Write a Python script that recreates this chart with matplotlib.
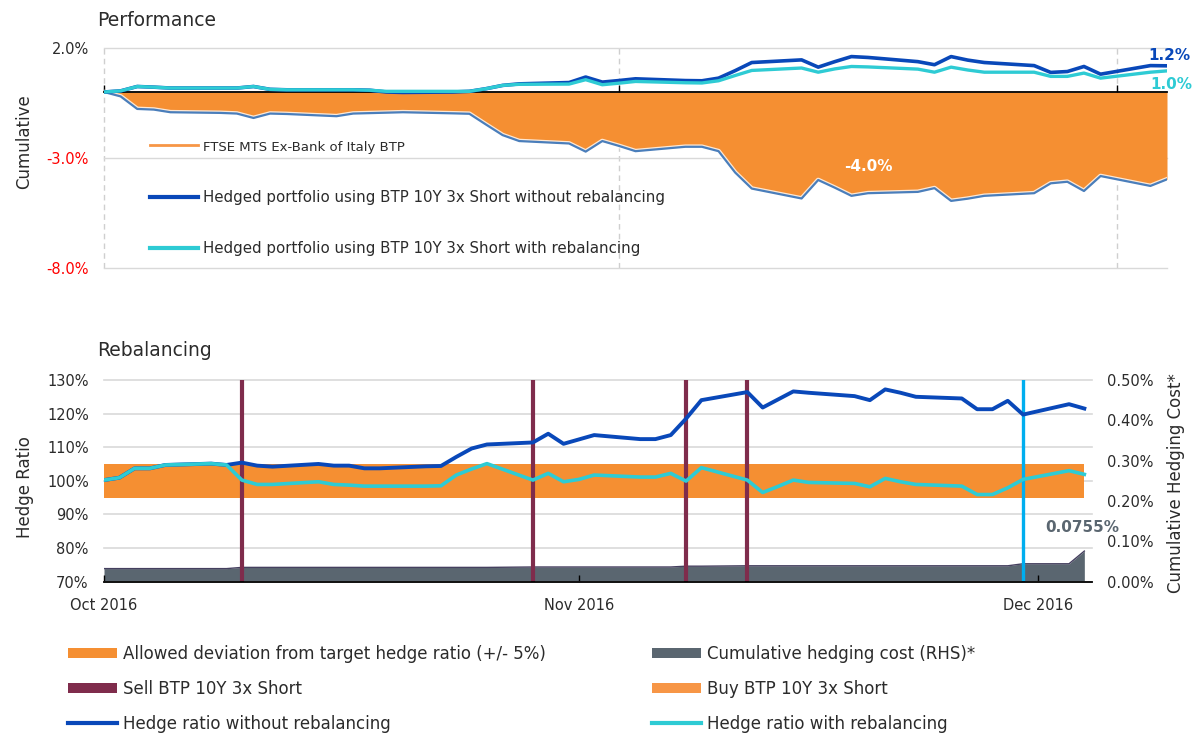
import matplotlib
matplotlib.use('Agg')
import matplotlib.pyplot as plt
import matplotlib.dates as mdates
import matplotlib.patheffects as pe
from matplotlib.ticker import FixedLocator
from matplotlib.lines import Line2D
from matplotlib.patches import Patch
import pandas as pd

# ---------------- data ----------------
dates = pd.bdate_range('2016-10-03', '2016-12-06')

ftse_mts = [0.0, -0.2, -0.77, -0.8, -0.92, -0.95, -0.98, -1.18, -0.98, -1.0,
            -1.1, -0.98, -0.96, -0.94, -0.92, -0.97, -0.99, -1.48, -1.96, -2.23,
            -2.34, -2.71, -2.23, -2.45, -2.69, -2.49, -2.49, -2.69, -3.66, -4.39,
            -4.84, -4.0, -4.35, -4.72, -4.6, -4.54, -4.37, -4.95, -4.85, -4.72,
            -4.6, -4.15, -4.08, -4.5, -3.82, -4.27, -3.97]
hedged_no_rebal = [0.0, 0.05, 0.25, 0.22, 0.18, 0.18, 0.18, 0.25, 0.12, 0.1,
                   0.1, 0.1, 0.08, 0.0, -0.02, 0.0, 0.03, 0.15, 0.3, 0.37,
                   0.43, 0.68, 0.45, 0.52, 0.6, 0.52, 0.51, 0.63, 0.97, 1.34,
                   1.46, 1.13, 1.38, 1.61, 1.57, 1.38, 1.24, 1.61, 1.45, 1.34,
                   1.2, 0.89, 0.93, 1.16, 0.81, 1.2, 1.19]
hedged_rebal = [0.0, 0.05, 0.25, 0.22, 0.18, 0.18, 0.18, 0.25, 0.12, 0.1,
                0.1, 0.1, 0.08, 0.03, 0.03, 0.03, 0.03, 0.15, 0.3, 0.35,
                0.36, 0.56, 0.33, 0.4, 0.48, 0.42, 0.41, 0.51, 0.75, 0.98,
                1.09, 0.9, 1.05, 1.16, 1.14, 1.04, 0.9, 1.13, 1.0, 0.9,
                0.9, 0.71, 0.71, 0.86, 0.63, 0.9, 0.96]

hr_no_rebal = [100.2, 100.9, 103.7, 103.7, 104.7, 105.1, 104.7, 105.4, 104.5, 104.2,
               105.0, 104.5, 104.5, 103.7, 103.7, 104.3, 104.4, 107.1, 109.6, 110.8,
               111.4, 114.0, 111.0, 112.3, 113.6, 112.4, 112.4, 113.6, 118.5, 124.0,
               126.4, 121.8, 124.2, 126.6, 126.2, 125.2, 124.0, 127.2, 126.2, 125.0,
               124.5, 121.3, 121.3, 123.8, 119.7, 122.8, 121.5]
hr_rebal = [100.2, 100.9, 103.7, 103.7, 104.7, 105.1, 104.7, 100.2, 98.9, 98.9,
            99.7, 98.9, 98.7, 98.4, 98.4, 98.4, 98.5, 101.7, 103.5, 105.1,
            100.2, 102.2, 99.7, 100.4, 101.7, 101.1, 101.1, 102.2, 99.9, 103.9,
            100.2, 96.5, 98.3, 100.2, 99.5, 99.2, 98.2, 100.7, 99.7, 98.9,
            98.4, 95.9, 95.9, 97.9, 100.4, 103.0, 101.9]
hedge_cost = [0.032, 0.032, 0.032, 0.032, 0.032, 0.032, 0.032, 0.035, 0.035, 0.035,
              0.035, 0.035, 0.035, 0.035, 0.035, 0.035, 0.035, 0.035, 0.035, 0.035,
              0.036, 0.036, 0.036, 0.036, 0.036, 0.036, 0.036, 0.036, 0.038, 0.038,
              0.039, 0.039, 0.039, 0.039, 0.039, 0.039, 0.039, 0.039, 0.039, 0.039,
              0.039, 0.039, 0.039, 0.039, 0.044, 0.044, 0.0755]

sell_dates = ['2016-10-12', '2016-10-31', '2016-11-10', '2016-11-14']
buy_dates = ['2016-12-02']
band_low, band_high = 95, 105
month_ticks = ['2016-10-03', '2016-11-03', '2016-12-03']
perf_ticks = [2, -3, -8]
hr_ticks = [70, 80, 90, 100, 110, 120, 130]
cost_ticks = [0.0, 0.1, 0.2, 0.3, 0.4, 0.5]

# ---------------- style ----------------
ORANGE = '#f58f32'
ORANGE_LIGHT = '#f79646'
DBLUE = '#0948b9'
CYAN = '#2ecbd4'
STEEL = '#4a7ebb'
MAROON = '#7f2c4c'
LBLUE = '#00aeef'
SLATE = '#5a6670'
GRID = '#d9d9d9'
TXT = '#2b2b2b'

plt.rcParams['font.family'] = ['DejaVu Sans']
W, H = 1200, 753
fig = plt.figure(figsize=(W / 100, H / 100), dpi=100)


def px_axes(l, t, r, b):
    return fig.add_axes([l / W, 1 - b / H, (r - l) / W, (b - t) / H])


tick_nums = mdates.date2num(pd.to_datetime(month_ticks))

# ---------------- Performance panel ----------------
ax1 = px_axes(104, 48, 1167, 268)
ax1.fill_between(dates, 0, ftse_mts, color=ORANGE, lw=0, zorder=2)
ax1.plot(dates, ftse_mts, color=STEEL, lw=1.6, zorder=3,
         path_effects=[pe.Stroke(linewidth=3.4, foreground='white', alpha=0.8), pe.Normal()])
ax1.plot(dates, hedged_no_rebal, color=DBLUE, lw=2.6, zorder=4)
ax1.plot(dates, hedged_rebal, color=CYAN, lw=2.4, zorder=5)
ax1.set_xlim(dates[0], dates[-1])
ax1.set_ylim(-8, 2)
ax1.set_yticks(perf_ticks, labels=[f'{v:.1f}%' for v in perf_ticks])
for lab, v in zip(ax1.get_yticklabels(), perf_ticks):
    lab.set_color('#ff0000' if v < 0 else TXT)
ax1.xaxis.set_major_locator(FixedLocator(tick_nums))
ax1.tick_params(axis='x', direction='in', length=5, width=1, color='black', labelbottom=False)
ax1.tick_params(axis='y', length=0, pad=11, labelsize=10.5)
for s in ['top', 'right', 'left']:
    ax1.spines[s].set_visible(False)
ax1.spines['bottom'].set_position(('data', 0))
ax1.spines['bottom'].set_color('black')
ax1.spines['bottom'].set_linewidth(1.3)
ax1.set_axisbelow(True)
ax1.grid(axis='y', color=GRID, lw=1)
ax1.grid(axis='x', color='#cfcfcf', lw=1, ls=(0, (4, 3)))
for gl in ax1.get_ygridlines() + ax1.get_xgridlines():
    gl.set_clip_on(False)

ax1.annotate(f'{hedged_no_rebal[-1]:.1f}%', xy=(dates[-1], hedged_no_rebal[-1]),
             xytext=(2, 4.5), textcoords='offset points', ha='center', va='baseline',
             color=DBLUE, fontweight='bold', fontsize=11)
ax1.annotate(f'{hedged_rebal[-1]:.1f}%', xy=(dates[-1], hedged_rebal[-1]),
             xytext=(3, -9.5), textcoords='offset points', ha='center', va='center',
             color=CYAN, fontweight='bold', fontsize=11)
ax1.text(pd.Timestamp('2016-11-18'), -3.38, f'{ftse_mts[-1]:.1f}%', color='white',
         fontweight='bold', fontsize=11, ha='center', va='center', zorder=6)

top_handles = [Line2D([], [], color=ORANGE_LIGHT, lw=2),
               Line2D([], [], color=DBLUE, lw=3),
               Line2D([], [], color=CYAN, lw=3)]
top_labels = ['FTSE MTS Ex-Bank of Italy BTP',
              'Hedged portfolio using BTP 10Y 3x Short without rebalancing',
              'Hedged portfolio using BTP 10Y 3x Short with rebalancing']
leg1 = ax1.legend(top_handles, top_labels, loc='upper left',
                  bbox_to_anchor=(150 / W, 1 - 140 / H), bbox_transform=fig.transFigure,
                  frameon=False, fontsize=10.8, handlelength=3.2, handletextpad=0.35,
                  labelspacing=2.42, borderpad=0, borderaxespad=0, labelcolor=TXT)
leg1.get_texts()[0].set_fontsize(9.5)

# ---------------- Rebalancing panel ----------------
ax = px_axes(104, 380, 1092, 581.5)
ax2 = ax.twinx()
ax.set_zorder(ax2.get_zorder() + 1)
ax.patch.set_visible(False)

ax2.fill_between(dates, 0, hedge_cost, color=SLATE, lw=0, zorder=2)
ax2.plot(dates, hedge_cost, color='#45405f', lw=1, zorder=3)
ax2.set_ylim(0, 0.5)
ax2.set_yticks(cost_ticks, labels=[f'{v:.2f}%' for v in cost_ticks])
ax2.tick_params(axis='y', length=0, pad=11, labelsize=10.5, labelcolor=TXT)
for s in ax2.spines.values():
    s.set_visible(False)
ax2.set_axisbelow(True)
ax2.grid(axis='x', color='#cfcfcf', lw=1, ls=(0, (4, 3)))
ax2.annotate(f'{hedge_cost[-1]:.4f}%', xy=(dates[-1], hedge_cost[-1]),
             xytext=(-1.5, 17), textcoords='offset points', ha='center', va='center',
             color=SLATE, fontweight='bold', fontsize=11)

ax.fill_between(dates, band_low, band_high, color=ORANGE, lw=0, zorder=1)
for d in sell_dates:
    ax.axvline(pd.Timestamp(d), color=MAROON, lw=3, zorder=3)
for d in buy_dates:
    ax.axvline(pd.Timestamp(d), color=LBLUE, lw=2.4, zorder=3)
ax.plot(dates, hr_no_rebal, color=DBLUE, lw=2.8, zorder=4)
ax.plot(dates, hr_rebal, color=CYAN, lw=2.6, zorder=5)

ax.set_xlim(dates[0], dates[-1] + pd.Timedelta(hours=12))
ax.set_ylim(70, 130)
ax.set_yticks(hr_ticks, labels=[f'{v:.0f}%' for v in hr_ticks])
ax.xaxis.set_major_locator(FixedLocator(tick_nums))
ax.xaxis.set_major_formatter(mdates.DateFormatter('%b %Y'))
ax.tick_params(axis='x', direction='in', length=5, width=1, color='black', pad=12,
               labelsize=10.5, labelcolor=TXT)
ax.tick_params(axis='y', length=0, pad=11, labelsize=10.5, labelcolor=TXT)
for s in ['top', 'right', 'left']:
    ax.spines[s].set_visible(False)
ax.spines['bottom'].set_color('black')
ax.spines['bottom'].set_linewidth(1.3)
ax.spines['bottom'].set_zorder(6)
ax.set_axisbelow(True)
ax.grid(axis='y', color=GRID, lw=1.2)
for gl in ax.get_ygridlines():
    gl.set_clip_on(False)

# ---------------- titles and axis labels ----------------
fig.text(97 / W, 1 - 20 / H, 'Performance', ha='left', va='center', fontsize=13.5, color=TXT)
fig.text(97 / W, 1 - 351 / H, 'Rebalancing', ha='left', va='center', fontsize=13.5, color=TXT)
fig.text(24 / W, 1 - 142 / H, 'Cumulative', rotation=90, ha='center', va='center',
         fontsize=12, color=TXT)
fig.text(25 / W, 1 - 487 / H, 'Hedge Ratio', rotation=90, ha='center', va='center',
         fontsize=12, color=TXT)
fig.text(1176 / W, 1 - 483 / H, 'Cumulative Hedging Cost*', rotation=90, ha='center',
         va='center', fontsize=12, color=TXT)

# ---------------- bottom legend ----------------
leg_kw = dict(loc='upper left', frameon=False, fontsize=12, handlelength=2.95,
              handleheight=0.6, handletextpad=0.36, labelspacing=1.02, borderpad=0,
              borderaxespad=0, labelcolor=TXT)
col1_handles = [Patch(color=ORANGE, lw=0), Patch(color=MAROON, lw=0),
                Line2D([], [], color=DBLUE, lw=3)]
col1_labels = ['Allowed deviation from target hedge ratio (+/- 5%)',
               'Sell BTP 10Y 3x Short', 'Hedge ratio without rebalancing']
col2_handles = [Patch(color=SLATE, lw=0), Patch(color=ORANGE_LIGHT, lw=0),
                Line2D([], [], color=CYAN, lw=3)]
col2_labels = ['Cumulative hedging cost (RHS)*', 'Buy BTP 10Y 3x Short',
               'Hedge ratio with rebalancing']
fig.legend(col1_handles, col1_labels, bbox_to_anchor=(68 / W, 1 - 645 / H), **leg_kw)
fig.legend(col2_handles, col2_labels, bbox_to_anchor=(652 / W, 1 - 645 / H), **leg_kw)

fig.savefig('out.png', dpi=100)
